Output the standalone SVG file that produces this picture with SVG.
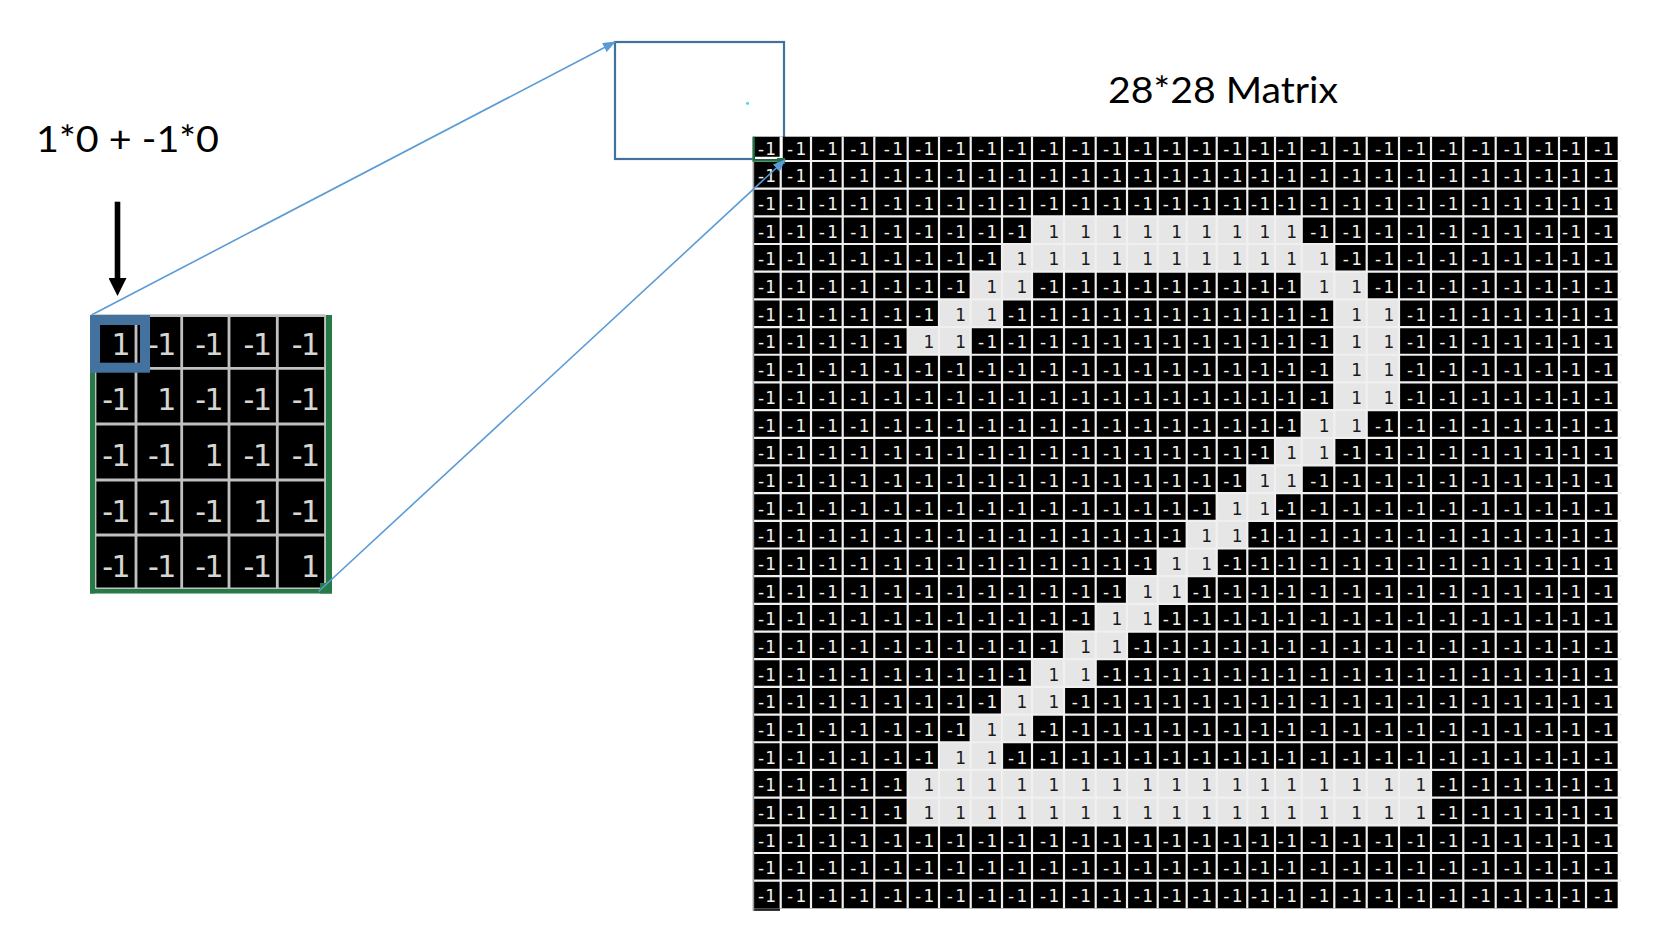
<svg xmlns="http://www.w3.org/2000/svg" xmlns:xlink="http://www.w3.org/1999/xlink" width="1664" height="936" viewBox="0 0 1664 936">
<style>
.w{font-family:"DejaVu Sans",sans-serif;font-size:17px;fill:#f2f2ea}
.d{font-family:"DejaVu Sans",sans-serif;font-size:17px;fill:#1a1a1a}
.k{font-family:"DejaVu Sans",sans-serif;font-size:30px;fill:#d6d6d0}
.lbl{font-family:Lato,"Open Sans",sans-serif;font-size:36px;fill:#000}
.one{fill:#e6e6e6}
.conn{stroke:#5b9bd5;stroke-width:1.6;fill:none}
.green{fill:#257a46}
</style>
<defs>
<marker id="ah" markerUnits="userSpaceOnUse" markerWidth="13" markerHeight="10" refX="12" refY="5" orient="auto">
<path d="M0,0 L13,5 L0,10 z" fill="#5b9bd5"/>
</marker>
<marker id="bh" markerUnits="userSpaceOnUse" markerWidth="18" markerHeight="18" refX="1" refY="9" orient="auto">
<path d="M0,0 L18,9 L0,18 z" fill="#000"/>
</marker>
<text id="mrow" class="w" y="0" x="758 765.2 787 795.5 818.7 827.2 850.3 858.8 883.7 892.2 915 923.5 946.7 955.2 978 986.5 1008 1016.5 1040 1048.5 1071.7 1080.2 1103 1111.5 1133.7 1142.2 1162.7 1171.2 1192.7 1201.2 1223.3 1231.8 1251 1259.5 1277.7 1286.2 1310.3 1318.8 1342.7 1351.2 1375 1383.5 1407 1415.5 1439.3 1447.8 1471.7 1480.2 1503.7 1512.2 1535 1543.5 1562 1570.5 1594.3 1602.8">-1-1-1-1-1-1-1-1-1-1-1-1-1-1-1-1-1-1-1-1-1-1-1-1-1-1-1-1</text>
</defs>
<rect width="1664" height="936" fill="#fff"/>

<g id="formula">
<text class="lbl" x="36" y="151.7" textLength="183" lengthAdjust="spacingAndGlyphs">1*0 + -1*0</text>
</g>

<g id="title">
<text class="lbl" x="1108" y="102.7" textLength="230" lengthAdjust="spacingAndGlyphs">28*28 Matrix</text>
</g>

<g id="kernel">
<rect x="95" y="315.7" width="230.5" height="273.1" fill="#000"/>
<path d="M95 315.7V588.8M136 315.7V588.8M181.7 315.7V588.8M229 315.7V588.8M277.3 315.7V588.8M325.5 315.7V588.8M95 315.7H325.5M95 368.3H325.5M95 424H325.5M95 480H325.5M95 535H325.5M95 588.8H325.5" stroke="#c0c0c0" stroke-width="2.8" fill="none"/>
<text class="k" y="355" x="111.6 148 157.3 195.3 204.6 243.6 252.9 291.8 301.1">1-1-1-1-1</text>
<text class="k" y="410" x="102.3 111.6 157.3 195.3 204.6 243.6 252.9 291.8 301.1">-11-1-1-1</text>
<text class="k" y="465.7" x="102.3 111.6 148 157.3 204.6 243.6 252.9 291.8 301.1">-1-11-1-1</text>
<text class="k" y="521.7" x="102.3 111.6 148 157.3 195.3 204.6 252.9 291.8 301.1">-1-1-11-1</text>
<text class="k" y="577.3" x="102.3 111.6 148 157.3 195.3 204.6 243.6 252.9 301.1">-1-1-1-11</text>
<rect class="green" x="90" y="315" width="5" height="278.5"/>
<rect class="green" x="90" y="589" width="236" height="4.5"/>
<rect class="green" x="326" y="315" width="6" height="278.5"/>
<rect class="green" x="320" y="583" width="12" height="10.5"/>
<rect x="95" y="320" width="50" height="47.7" fill="none" stroke="#44729f" stroke-width="10"/>
</g>

<g id="zoom-box">
<rect x="615" y="42" width="169" height="117" fill="none" stroke="#41719c" stroke-width="2.2"/>
<circle cx="747.5" cy="103.3" r="1.6" fill="#52d6f4"/>
</g>

<g id="matrix">
<rect x="753" y="136.7" width="864.7" height="771.6" fill="#000"/>
<rect x="753" y="908.3" width="27" height="2.6" fill="#222"/>
<g id="matrix-minus">
<use href="#mrow" y="154.7"/>
<use href="#mrow" y="182.4"/>
<use href="#mrow" y="210"/>
<use href="#mrow" y="237.7"/>
<use href="#mrow" y="265.4"/>
<use href="#mrow" y="293.1"/>
<use href="#mrow" y="320.8"/>
<use href="#mrow" y="348.4"/>
<use href="#mrow" y="376.1"/>
<use href="#mrow" y="403.8"/>
<use href="#mrow" y="431.5"/>
<use href="#mrow" y="459.2"/>
<use href="#mrow" y="486.8"/>
<use href="#mrow" y="514.5"/>
<use href="#mrow" y="542.2"/>
<use href="#mrow" y="569.9"/>
<use href="#mrow" y="597.6"/>
<use href="#mrow" y="625.2"/>
<use href="#mrow" y="652.9"/>
<use href="#mrow" y="680.6"/>
<use href="#mrow" y="708.3"/>
<use href="#mrow" y="736"/>
<use href="#mrow" y="763.6"/>
<use href="#mrow" y="791.3"/>
<use href="#mrow" y="819"/>
<use href="#mrow" y="846.7"/>
<use href="#mrow" y="874.4"/>
<use href="#mrow" y="902"/>
</g>
<g class="one">
<rect x="1032" y="216.34" width="269.7" height="27.68"/>
<rect x="1002" y="244.02" width="332.3" height="27.68"/>
<rect x="970.7" y="271.7" width="61.3" height="27.68"/>
<rect x="1301.7" y="271.7" width="65" height="27.68"/>
<rect x="939" y="299.38" width="63" height="27.68"/>
<rect x="1334.3" y="299.38" width="64.7" height="27.68"/>
<rect x="907.7" y="327.06" width="63" height="27.68"/>
<rect x="1334.3" y="327.06" width="64.7" height="27.68"/>
<rect x="1334.3" y="354.74" width="64.7" height="55.36"/>
<rect x="1301.7" y="410.1" width="65" height="27.68"/>
<rect x="1275" y="437.78" width="59.3" height="27.68"/>
<rect x="1247.3" y="465.46" width="54.4" height="27.68"/>
<rect x="1216.7" y="493.14" width="58.3" height="27.68"/>
<rect x="1186.7" y="520.82" width="60.6" height="27.68"/>
<rect x="1157.7" y="548.5" width="59" height="27.68"/>
<rect x="1127" y="576.18" width="59.7" height="27.68"/>
<rect x="1095.7" y="603.86" width="62" height="27.68"/>
<rect x="1064" y="631.54" width="63" height="27.68"/>
<rect x="1032" y="659.22" width="63.7" height="27.68"/>
<rect x="1002" y="686.9" width="62" height="27.68"/>
<rect x="970.7" y="714.58" width="61.3" height="27.68"/>
<rect x="939" y="742.26" width="63" height="27.68"/>
<rect x="907.7" y="769.94" width="523.3" height="55.36"/>
</g>
<path d="M780.7 136.7V908.3M811 136.7V908.3M842.7 136.7V908.3M874.3 136.7V908.3M907.7 136.7V908.3M939 136.7V908.3M970.7 136.7V908.3M1002 136.7V908.3M1032 136.7V908.3M1064 136.7V908.3M1095.7 136.7V908.3M1127 136.7V908.3M1157.7 136.7V908.3M1186.7 136.7V908.3M1216.7 136.7V908.3M1247.3 136.7V908.3M1275 136.7V908.3M1301.7 136.7V908.3M1334.3 136.7V908.3M1366.7 136.7V908.3M1399 136.7V908.3M1431 136.7V908.3M1463.3 136.7V908.3M1495.7 136.7V908.3M1527.7 136.7V908.3M1559 136.7V908.3M1586 136.7V908.3M753 161H1621.5M753 188.66H1621.5M753 216.34H1621.5M753 244.02H1621.5M753 271.7H1621.5M753 299.38H1621.5M753 327.06H1621.5M753 354.74H1621.5M753 382.42H1621.5M753 410.1H1621.5M753 437.78H1621.5M753 465.46H1621.5M753 493.14H1621.5M753 520.82H1621.5M753 548.5H1621.5M753 576.18H1621.5M753 603.86H1621.5M753 631.54H1621.5M753 659.22H1621.5M753 686.9H1621.5M753 714.58H1621.5M753 742.26H1621.5M753 769.94H1621.5M753 797.62H1621.5M753 825.3H1621.5M753 852.98H1621.5M753 880.66H1621.5" stroke="#f0f0f0" stroke-width="2.2" fill="none"/>
<path d="M753.4 136.7V911" stroke="#9a9a9a" stroke-width="1.6" fill="none"/>
<g id="matrix-ones">
<text class="d" y="237.7" x="1048.5 1080.2 1111.5 1142.2 1171.2 1201.2 1231.8 1259.5 1286.2">111111111</text>
<text class="d" y="265.4" x="1016.5 1048.5 1080.2 1111.5 1142.2 1171.2 1201.2 1231.8 1259.5 1286.2 1318.8">11111111111</text>
<text class="d" y="293.1" x="986.5 1016.5 1318.8 1351.2">1111</text>
<text class="d" y="320.8" x="955.2 986.5 1351.2 1383.5">1111</text>
<text class="d" y="348.4" x="923.5 955.2 1351.2 1383.5">1111</text>
<text class="d" y="376.1" x="1351.2 1383.5">11</text>
<text class="d" y="403.8" x="1351.2 1383.5">11</text>
<text class="d" y="431.5" x="1318.8 1351.2">11</text>
<text class="d" y="459.2" x="1286.2 1318.8">11</text>
<text class="d" y="486.8" x="1259.5 1286.2">11</text>
<text class="d" y="514.5" x="1231.8 1259.5">11</text>
<text class="d" y="542.2" x="1201.2 1231.8">11</text>
<text class="d" y="569.9" x="1171.2 1201.2">11</text>
<text class="d" y="597.6" x="1142.2 1171.2">11</text>
<text class="d" y="625.2" x="1111.5 1142.2">11</text>
<text class="d" y="652.9" x="1080.2 1111.5">11</text>
<text class="d" y="680.6" x="1048.5 1080.2">11</text>
<text class="d" y="708.3" x="1016.5 1048.5">11</text>
<text class="d" y="736" x="986.5 1016.5">11</text>
<text class="d" y="763.6" x="955.2 986.5">11</text>
<text class="d" y="791.3" x="923.5 955.2 986.5 1016.5 1048.5 1080.2 1111.5 1142.2 1171.2 1201.2 1231.8 1259.5 1286.2 1318.8 1351.2 1383.5 1415.5">11111111111111111</text>
<text class="d" y="819" x="923.5 955.2 986.5 1016.5 1048.5 1080.2 1111.5 1142.2 1171.2 1201.2 1231.8 1259.5 1286.2 1318.8 1351.2 1383.5 1415.5">11111111111111111</text>
</g>
<g id="selection">
<path d="M755 158 H781.5 V136.7" stroke="#ffffff" stroke-width="2.5" fill="none"/>
<path d="M753.6 136.7 V160.6 H777" stroke="#217346" stroke-width="2.2" fill="none"/>
<rect x="777" y="158" width="8" height="6" fill="#217346"/>
</g>
</g>

<g id="connectors">
<line class="conn" x1="91.5" y1="315" x2="615" y2="42" marker-end="url(#ah)"/>
<line class="conn" x1="318.5" y1="591.5" x2="785" y2="160" marker-end="url(#ah)"/>
<line x1="117.5" y1="201.7" x2="117.5" y2="279" stroke="#000" stroke-width="5.6" marker-end="url(#bh)"/>
</g>
</svg>
